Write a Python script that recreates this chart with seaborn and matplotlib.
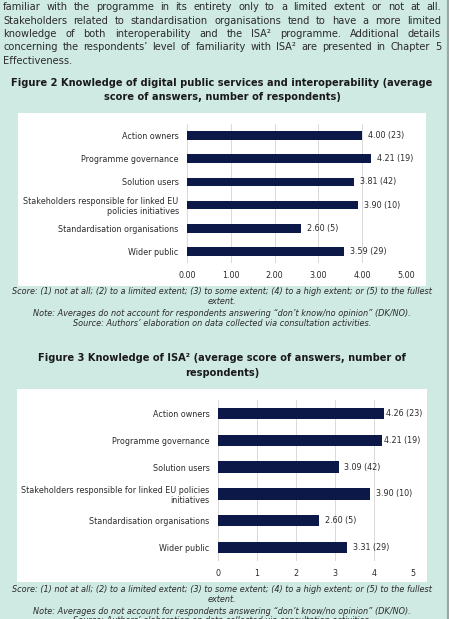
import pandas as pd
import matplotlib.pyplot as plt
import seaborn as sns
from matplotlib.patches import Rectangle

# data
groups_fig2 = ['Action owners', 'Programme governance', 'Solution users',
               'Stakeholders responsible for linked EU\npolicies initiatives',
               'Standardisation organisations', 'Wider public']
scores_fig2 = [4.00, 4.21, 3.81, 3.90, 2.60, 3.59]
counts_fig2 = [23, 19, 42, 10, 5, 29]

groups_fig3 = ['Action owners', 'Programme governance', 'Solution users',
               'Stakeholders responsible for linked EU policies\ninitiatives',
               'Standardisation organisations', 'Wider public']
scores_fig3 = [4.26, 4.21, 3.09, 3.90, 2.60, 3.31]
counts_fig3 = [23, 19, 42, 10, 5, 29]

ticks_fig2 = [0, 1, 2, 3, 4, 5]
ticklabels_fig2 = ['0.00', '1.00', '2.00', '3.00', '4.00', '5.00']
ticks_fig3 = [0, 1, 2, 3, 4, 5]
ticklabels_fig3 = ['0', '1', '2', '3', '4', '5']

paragraph = [
    "familiar with the programme in its entirety only to a limited extent or not at all.",
    "Stakeholders related to standardisation organisations tend to have a more limited",
    "knowledge of both interoperability and the ISA\u00b2 programme. Additional details",
    "concerning the respondents\u2019 level of familiarity with ISA\u00b2 are presented in Chapter 5",
    "Effectiveness.",
]
title2 = ["Figure 2 Knowledge of digital public services and interoperability (average",
          "score of answers, number of respondents)"]
title3 = ["Figure 3 Knowledge of ISA\u00b2 (average score of answers, number of",
          "respondents)"]
caption = ["Score: (1) not at all; (2) to a limited extent; (3) to some extent; (4) to a high extent; or (5) to the fullest",
           "extent.",
           "Note: Averages do not account for respondents answering \u201cdon\u2019t know/no opinion\u201d (DK/NO).",
           "Source: Authors\u2019 elaboration on data collected via consultation activities."]

W, H = 449, 619
BG = '#cfe9e3'
NAVY = '#0c1847'
TXT = '#2b2b2b'

sns.set_style('white')
plt.rcParams['font.family'] = ['DejaVu Sans']

fig = plt.figure(figsize=(W / 100, H / 100), dpi=100, facecolor=BG)


def fx(x):
    return x / W


def fy(y):
    return 1 - y / H


# white panels behind the charts
for x0, y0, x1, y1 in [(18, 113, 426, 286), (17, 389, 427, 582)]:
    fig.patches.append(Rectangle((fx(x0), fy(y1)), fx(x1 - x0), (y1 - y0) / H,
                                 transform=fig.transFigure, facecolor='white',
                                 edgecolor='none', zorder=-1))
# grey page edge on the right
fig.add_artist(plt.Line2D([fx(447.5), fx(447.5)], [0, 1], color='#9aa7a5', lw=1.6))

renderer = fig.canvas.get_renderer()


def justify(line, y, x0, x1, **kw):
    words = line.split(' ')
    texts = [fig.text(0, fy(y), w, va='center', ha='left', **kw) for w in words]
    widths = [t.get_window_extent(renderer).width for t in texts]
    gap = (x1 - x0 - sum(widths)) / max(len(words) - 1, 1)
    x = x0
    for t, w in zip(texts, widths):
        t.set_x(fx(x))
        x += w + gap


para_y = [7.5, 21, 34, 47, 60.5]
for i, (line, y) in enumerate(zip(paragraph, para_y)):
    if i < len(paragraph) - 1:
        justify(line, y, 3, 441, fontsize=7.1, color=TXT)
    else:
        fig.text(fx(3), fy(y), line, va='center', fontsize=7.1, color=TXT)

for line, y in zip(title2, [83, 97]):
    fig.text(fx(222), fy(y), line, ha='center', va='center', fontsize=7.1,
             fontweight='bold', color='#1a1a1a')
for line, y in zip(title3, [358, 373]):
    fig.text(fx(222), fy(y), line, ha='center', va='center', fontsize=7.1,
             fontweight='bold', color='#1a1a1a')

for ys in [[292, 302, 313, 324], [590, 600, 611, 621]]:
    for line, y in zip(caption, ys):
        fig.text(fx(222), fy(y), line, ha='center', va='center', fontsize=5.9,
                 style='italic', color=TXT)


def draw_chart(box, groups, scores, counts, ticks, ticklabels, width, tight_pad):
    x0, y0, x1, y1 = box
    ax = fig.add_axes([fx(x0), fy(y1), fx(x1 - x0), (y1 - y0) / H])
    ax.set_facecolor('white')
    df = pd.DataFrame({'group': groups, 'score': scores})
    sns.barplot(data=df, x='score', y='group', orient='h', color=NAVY,
                width=width, ax=ax, saturation=1, linewidth=0)
    ax.set_xlim(0, 5)
    ax.set_ylim(5.5, -0.5)
    ax.set_xticks(ticks)
    ax.set_xticklabels(ticklabels)
    ax.grid(axis='x', color='#d9d9d9', lw=0.7)
    ax.set_axisbelow(True)
    for s in ax.spines.values():
        s.set_visible(False)
    ax.tick_params(length=0, labelsize=5.8, colors=TXT, pad=6)
    ax.set_xlabel('')
    ax.set_ylabel('')
    for bar, v, n in zip(ax.patches, scores, counts):
        # labels near the panel edge sit closer to their bar
        pad = 1 if (tight_pad and v > 4.2) else 4.3
        ax.annotate(f'{v:.2f} ({n})', (bar.get_width(), bar.get_y() + bar.get_height() / 2),
                    xytext=(pad, 0), textcoords='offset points', va='center',
                    fontsize=5.8, color=TXT)
    return ax


draw_chart((187, 124, 406, 263), groups_fig2, scores_fig2, counts_fig2,
           ticks_fig2, ticklabels_fig2, 0.38, False)
draw_chart((218, 400, 413, 561), groups_fig3, scores_fig3, counts_fig3,
           ticks_fig3, ticklabels_fig3, 0.42, True)

fig.savefig('out.png', dpi=100, facecolor=BG)
